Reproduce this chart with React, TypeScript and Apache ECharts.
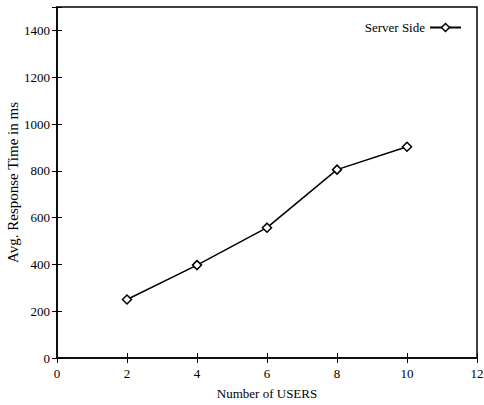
import React, { useEffect, useRef } from "react";
import * as echarts from "echarts";

const users = [2, 4, 6, 8, 10];
const responseTimes = [250, 397, 557, 805, 903];
const seriesName = "Server Side";
const xTitle = "Number of USERS";
const yTitle = "Avg. Response Time in ms";

export default function App() {
  const ref = useRef<HTMLDivElement>(null);
  useEffect(() => {
    const chart = echarts.init(ref.current!, null, { renderer: "svg" });
    const font = "'Liberation Serif', 'Times New Roman', serif";
    const tickCommon = { show: true, inside: true, length: 5, lineStyle: { color: "#000", width: 1 } };
    chart.setOption({
      animation: false,
      backgroundColor: "#fff",
      textStyle: { fontFamily: font },
      grid: {
        left: 57,
        top: 7,
        right: 7,
        bottom: 47,
        containLabel: false,
        outerBoundsMode: "none",
        show: true,
        borderColor: "#000",
        borderWidth: 1.5,
        backgroundColor: "transparent",
      },
      legend: {
        data: [seriesName],
        right: 17,
        top: 16,
        align: "right",
        itemWidth: 31,
        itemHeight: 10,
        itemStyle: { color: "#fff", borderColor: "#000", borderWidth: 1.5 },
        textStyle: { fontFamily: font, fontSize: 13, color: "#000" },
      },
      xAxis: [
        {
          type: "value",
          min: 0,
          max: 12,
          interval: 2,
          name: xTitle,
          nameLocation: "middle",
          nameGap: 29,
          nameMoveOverlap: false,
          nameTextStyle: { fontFamily: font, fontSize: 13, color: "#000" },
          axisLine: { show: true, lineStyle: { color: "#000", width: 1.5 } },
          axisTick: tickCommon,
          axisLabel: { fontFamily: font, fontSize: 13, color: "#000", margin: 9 },
          splitLine: { show: false },
        },
        {
          type: "value",
          position: "top",
          min: 0,
          max: 12,
          interval: 2,
          axisLine: { show: false },
          axisTick: tickCommon,
          axisLabel: { show: false },
          splitLine: { show: false },
        },
      ],
      yAxis: [
        {
          type: "value",
          min: 0,
          max: 1500,
          interval: 200,
          name: yTitle,
          nameLocation: "middle",
          nameGap: 37,
          nameMoveOverlap: false,
          nameTextStyle: { fontFamily: font, fontSize: 15, color: "#000" },
          axisLine: { show: true, lineStyle: { color: "#000", width: 1.5 } },
          axisTick: tickCommon,
          axisLabel: {
            fontFamily: font,
            fontSize: 13,
            color: "#000",
            margin: 7,
            formatter: (v: number) => (v % 200 === 0 ? String(v) : ""),
          },
          splitLine: { show: false },
        },
        {
          type: "value",
          position: "right",
          min: 0,
          max: 1500,
          interval: 200,
          axisLine: { show: false },
          axisTick: tickCommon,
          axisLabel: { show: false },
          splitLine: { show: false },
        },
      ],
      series: [
        {
          name: seriesName,
          type: "line",
          data: users.map((u, i) => [u, responseTimes[i]]),
          symbol: "diamond",
          symbolSize: 9,
          lineStyle: { color: "#000", width: 1.5 },
          itemStyle: { color: "#fff", borderColor: "#000", borderWidth: 1.5 },
          color: "#000",
        },
      ],
    });
    return () => chart.dispose();
  }, []);
  return <div ref={ref} style={{ width: 484, height: 405, position: "absolute", left: 0, top: 0 }} />;
}
